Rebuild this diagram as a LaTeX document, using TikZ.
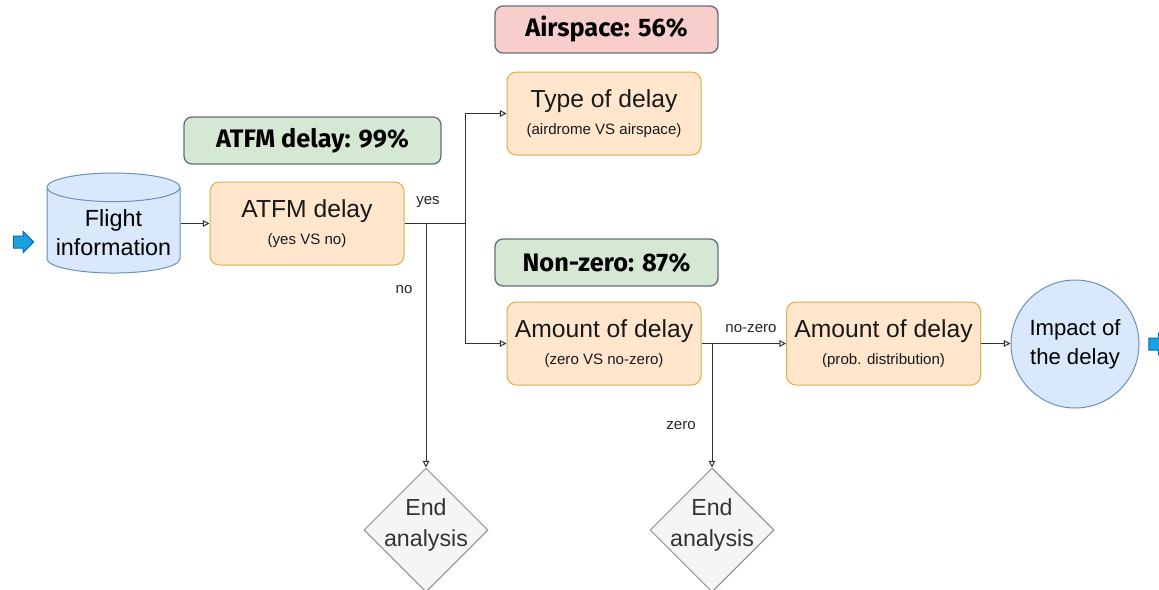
\documentclass[tikz,border=0pt]{standalone}
\usepackage{fontspec}
\setmainfont{Liberation Sans}
\newfontfamily\tagfont{Fira Sans}
\usetikzlibrary{shapes.geometric,shapes.arrows,arrows.meta,positioning}

\definecolor{boxfill}{RGB}{255,230,204}
\definecolor{boxline}{RGB}{222,172,70}
\definecolor{greenfill}{RGB}{213,232,212}
\definecolor{redfill}{RGB}{248,206,204}
\definecolor{tagline}{RGB}{100,110,125}
\definecolor{bluefill}{RGB}{218,232,252}
\definecolor{blueline}{RGB}{108,142,191}
\definecolor{greyfill}{RGB}{245,245,245}
\definecolor{greyline}{RGB}{140,140,140}
\definecolor{arrowfill}{RGB}{27,161,226}
\definecolor{arrowline}{RGB}{0,110,175}

\newcommand{\subtxt}[1]{{\fontsize{11.3}{13}\selectfont #1}}

\tikzset{
	delaybox/.style={draw=boxline, fill=boxfill, rounded corners=7pt, minimum width=145.5pt, minimum height=62.25pt, align=center, text=black!90, font=\fontsize{18.5}{20}\selectfont},
	tagbox/.style={draw=tagline, line width=1pt, rounded corners=6pt, minimum width=167.25pt, minimum height=35.25pt, font=\tagfont\bfseries\fontsize{19}{21}\selectfont},
	enddiamond/.style={shape=diamond, draw=greyline, fill=greyfill, minimum width=93pt, minimum height=93pt, inner sep=0pt},
	endtext/.style={align=center, text=black!80, font=\fontsize{17.4}{23}\selectfont},
	flow/.style={draw=black!80, -{Triangle[open,length=5pt,width=5pt]}},
	lbl/.style={font=\fontsize{11.3}{13}\selectfont, text=black!85},
	bluearrow/.style={shape=single arrow, draw=arrowline, fill=arrowfill, inner sep=0pt, text height=8.25pt, text depth=0pt, text width=10pt, single arrow head extend=3.4pt, single arrow head indent=0pt}
}
\tikzset{every picture/.style={line width=0.75pt}}

\begin{document}
\begin{tikzpicture}[x=0.75pt,y=0.75pt,yscale=-1,xscale=1]
	\useasboundingbox (0,0) rectangle (1159,589);

	%Shape: Arrows [id:in]
	\node[bluearrow] (inarrow) at (20.5,242) {};
	%Shape: Cylinder [id:flight]
	\node[shape=cylinder, shape border rotate=90, aspect=0.23, draw=blueline, fill=bluefill, minimum width=99.75pt, minimum height=75pt, align=center, font=\fontsize{17.5}{21.75}\selectfont] (flight) at (113.5,233) {Flight\\information};

	%Shape: Rectangles
	\node[delaybox] (atfm) at (307,223.5) {ATFM delay\\\subtxt{(yes VS no)}};
	\node[delaybox] (type) at (604,113.5) {Type of delay\\\subtxt{(airdrome VS airspace)}};
	\node[delaybox] (amount) at (604,343.5) {Amount of delay\\\subtxt{(zero VS no-zero)}};
	\node[delaybox] (dist) at (883.5,343.5) {Amount of delay\\\subtxt{(prob. distribution)}};

	%Shape: Tags
	\node[tagbox, fill=greenfill, minimum width=192.75pt] (atfmtag) at (312.5,140.5) {ATFM delay: 99\%};
	\node[tagbox, fill=redfill] (airtag) at (606.5,29.5) {Airspace: 56\%};
	\node[tagbox, fill=greenfill] (zerotag) at (606.5,262.5) {Non-zero: 87\%};

	%Shape: Circle [id:impact]
	\node[shape=circle, draw=blueline, fill=bluefill, minimum size=96pt, align=center, font=\fontsize{16.6}{21.75}\selectfont] (impact) at (1075,344) {Impact of\\the delay};
	\node[bluearrow] (outarrow) at (1156,344) {};

	%Shape: Diamonds
	\node[enddiamond, label={[endtext,yshift=4pt]center:End\\analysis}] (endno) at (426,530) {};
	\node[enddiamond, label={[endtext,yshift=4pt]center:End\\analysis}] (endzero) at (712,530) {};

	%Straight Lines
	\coordinate (split) at (465,223.5);
	\draw[flow] (flight.east |- atfm.west) -- (atfm.west);
	\draw[draw=black!80] (atfm.east) -- (split);
	\draw[flow] (split) |- (type.west);
	\draw[flow] (split) |- (amount.west);
	\draw[flow] (endno.north |- atfm.east) -- (endno.north);
	\draw[flow] (amount.east) -- (dist.west);
	\draw[flow] (endzero.north |- amount.east) -- (endzero.north);
	\draw[flow] (dist.east) -- (dist.east -| impact.west);

	% Text Node
	\node[lbl] (yes) at (428,202) {yes};
	% Text Node
	\node[lbl] (no) at (404,290) {no};
	% Text Node
	\node[lbl] (nozero) at (751,329) {no-zero};
	% Text Node
	\node[lbl] (zero) at (681,426) {zero};

\end{tikzpicture}
\end{document}
